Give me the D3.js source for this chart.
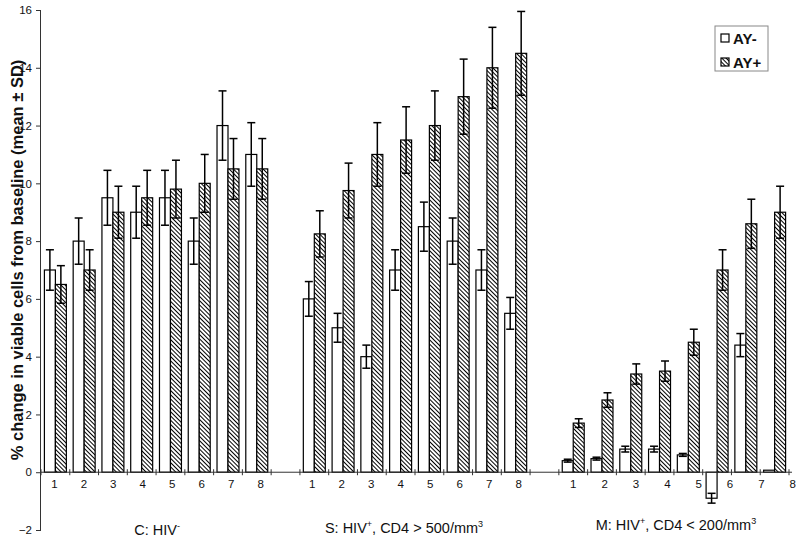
<!DOCTYPE html>
<html>
<head>
<meta charset="utf-8">
<script src="https://cdn.jsdelivr.net/npm/d3@7"></script>
<style>
  html, body { margin: 0; padding: 0; background: #fff; }
  svg { display: block; font-family: "Liberation Sans", Arial, sans-serif; }
</style>
</head>
<body>
<svg id="chart" width="800" height="541"></svg>
<script>
// ---------- DATA ----------
const timepoints = ["1", "2", "3", "4", "5", "6", "7", "8"];
const groupKeys = ["C", "S", "M"];
const seriesNames = ["AY-", "AY+"];
const yTicks = [-2, 0, 2, 4, 6, 8, 10, 12, 14, 16];

// C: HIV-
const cNeg   = [7.0, 8.0, 9.5, 9.0, 9.5, 8.0, 12.0, 11.0];
const cNegSD = [0.7, 0.8, 0.95, 0.9, 0.95, 0.8, 1.2, 1.1];
const cPos   = [6.5, 7.0, 9.0, 9.5, 9.8, 10.0, 10.5, 10.5];
const cPosSD = [0.65, 0.7, 0.9, 0.95, 1.0, 1.0, 1.05, 1.05];

// S: HIV+, CD4 > 500/mm3
const sNeg   = [6.0, 5.0, 4.0, 7.0, 8.5, 8.0, 7.0, 5.5];
const sNegSD = [0.6, 0.5, 0.4, 0.7, 0.85, 0.8, 0.7, 0.55];
const sPos   = [8.25, 9.75, 11.0, 11.5, 12.0, 13.0, 14.0, 14.5];
const sPosSD = [0.8, 0.95, 1.1, 1.15, 1.2, 1.3, 1.4, 1.45];

// M: HIV+, CD4 < 200/mm3
const mNeg   = [0.4, 0.47, 0.8, 0.8, 0.6, -0.9, 4.4, 0.07];
const mNegSD = [0.05, 0.05, 0.1, 0.1, 0.05, 0.17, 0.4, 0];
const mPos   = [1.7, 2.5, 3.4, 3.5, 4.5, 7.0, 8.6, 9.0];
const mPosSD = [0.15, 0.25, 0.35, 0.35, 0.45, 0.7, 0.85, 0.9];

// ---------- BUILD ----------
const groupData = {
  C: { neg: cNeg, negSD: cNegSD, pos: cPos, posSD: cPosSD },
  S: { neg: sNeg, negSD: sNegSD, pos: sPos, posSD: sPosSD },
  M: { neg: mNeg, negSD: mNegSD, pos: mPos, posSD: mPosSD }
};

// 26 slots: 8 C, gap, 8 S, gap, 8 M
const slots = [];
groupKeys.forEach((g, gi) => {
  timepoints.forEach(t => slots.push(g + t));
  if (gi < groupKeys.length - 1) slots.push("gap" + gi);
});

const records = [];
groupKeys.forEach(g => {
  const d = groupData[g];
  timepoints.forEach((t, i) => {
    records.push({ slot: g + t, series: "AY-", value: d.neg[i], sd: d.negSD[i] });
    records.push({ slot: g + t, series: "AY+", value: d.pos[i], sd: d.posSD[i] });
  });
});

// ---------- LAYOUT ----------
const svg = d3.select("#chart");
const plotL = 41, plotR = 789, plotT = 10, plotB = 530;

const x = d3.scaleBand().domain(slots).range([plotL, plotR]).padding(0);
const xs = d3.scaleBand().domain(seriesNames).range([0, x.bandwidth()])
  .paddingInner(0).paddingOuter(0.31);
const y = d3.scaleLinear().domain([-2, 16]).range([plotB, plotT]);

// hatch pattern
const defs = svg.append("defs");
defs.append("pattern")
  .attr("id", "hatch")
  .attr("patternUnits", "userSpaceOnUse")
  .attr("width", 3).attr("height", 3)
  .attr("patternTransform", "rotate(-45)")
  .call(p => {
    p.append("rect").attr("width", 3).attr("height", 3).attr("fill", "#fff");
    p.append("line").attr("x1", 0.5).attr("y1", 0).attr("x2", 0.5).attr("y2", 3)
      .attr("stroke", "#000").attr("stroke-width", 1);
  });

const fillFor = s => s === "AY-" ? "#fff" : "url(#hatch)";

// Y title (drawn first; tick labels sit over it as in the original)
svg.append("text")
  .attr("transform", `translate(23,260) rotate(-90)`)
  .attr("text-anchor", "middle")
  .attr("font-size", 16.5).attr("font-weight", "bold").attr("fill", "#111")
  .text("% change in viable cells from baseline (mean ± SD)");

// Y axis
const yAxis = d3.axisLeft(y).tickValues(yTicks).tickSize(5).tickPadding(4)
  .tickFormat(d3.format("d"));
const yg = svg.append("g").attr("transform", `translate(${plotL},0)`).call(yAxis);
yg.select(".domain").attr("stroke", "#333").attr("d", `M-0.5,${plotT}V${plotB}`);
yg.selectAll(".tick line").attr("stroke", "#333");
yg.selectAll(".tick text").attr("font-size", 11.5).attr("fill", "#111")
  .attr("font-family", "'Liberation Sans', Arial, sans-serif");

// Bars
const bars = svg.append("g");
bars.selectAll("rect").data(records).join("rect")
  .attr("x", d => x(d.slot) + xs(d.series))
  .attr("width", xs.bandwidth())
  .attr("y", d => y(Math.max(0, d.value)))
  .attr("height", d => Math.abs(y(d.value) - y(0)))
  .attr("fill", d => fillFor(d.series))
  .attr("stroke", "#000").attr("stroke-width", 1.2);

// X axis line + cross ticks
const y0 = y(0);
svg.append("line").attr("x1", plotL).attr("x2", plotR + 3).attr("y1", y0).attr("y2", y0)
  .attr("stroke", "#333").attr("stroke-width", 1);
const boundaries = slots.map(s => x(s)).concat([plotR]);
svg.append("g").selectAll("line").data(boundaries).join("line")
  .attr("x1", d => d).attr("x2", d => d)
  .attr("y1", y0 - 3).attr("y2", y0 + 3)
  .attr("stroke", "#333").attr("stroke-width", 1);

// Error bars
const capW = 8;
const err = svg.append("g").attr("stroke", "#000").attr("stroke-width", 1.5);
records.filter(d => d.sd > 0).forEach(d => {
  const cx = x(d.slot) + xs(d.series) + xs.bandwidth() / 2;
  const hi = y(d.value + d.sd), lo = y(d.value - d.sd);
  err.append("line").attr("x1", cx).attr("x2", cx).attr("y1", hi).attr("y2", lo);
  err.append("line").attr("x1", cx - capW / 2).attr("x2", cx + capW / 2).attr("y1", hi).attr("y2", hi);
  err.append("line").attr("x1", cx - capW / 2).attr("x2", cx + capW / 2).attr("y1", lo).attr("y2", lo);
});

// Category number labels (slightly drifting label rows, as in the original)
const labelDrift = { C: 0.7, S: 0.7, M: 2.6 };
const labelShift = { C: -1, S: -2, M: 0 };
const lab = svg.append("g").attr("font-size", 11.5).attr("fill", "#111").attr("text-anchor", "middle");
groupKeys.forEach(g => {
  timepoints.forEach((t, i) => {
    lab.append("text")
      .attr("x", x(g + t) + x.bandwidth() / 2 + labelShift[g] + labelDrift[g] * i)
      .attr("y", y0 + 16)
      .text(t);
  });
});

// Group labels
const gl = svg.append("g").attr("font-size", 14.5).attr("fill", "#111").attr("text-anchor", "middle");
function groupLabel(cx, by, parts) {
  const t = gl.append("text").attr("x", cx).attr("y", by);
  parts.forEach(p => {
    const ts = t.append("tspan").text(p.text);
    if (p.sup) ts.attr("font-size", 9).attr("dy", -6);
    else if (p.after) ts.attr("dy", 6);
  });
}
const center = (a, b) => (x(a) + x(b) + x.bandwidth()) / 2;
groupLabel(center("C1", "C8") + 1, 535, [{ text: "C: HIV" }, { text: "-", sup: true }]);
groupLabel(center("S1", "S8") - 11, 533, [{ text: "S: HIV" }, { text: "+", sup: true }, { text: ", CD4 > 500/mm", after: true }, { text: "3", sup: true }]);
groupLabel(center("M1", "M8") + 2, 530, [{ text: "M: HIV" }, { text: "+", sup: true }, { text: ", CD4 < 200/mm", after: true }, { text: "3", sup: true }]);

// Legend
const lg = svg.append("g").attr("transform", "translate(715,26)");
lg.append("rect").attr("width", 53).attr("height", 45)
  .attr("fill", "#fff").attr("stroke", "#888").attr("stroke-width", 1);
seriesNames.forEach((s, i) => {
  const row = lg.append("g").attr("transform", `translate(6,${8 + i * 24})`);
  row.append("rect").attr("width", 8).attr("height", 8)
    .attr("fill", fillFor(s)).attr("stroke", "#000").attr("stroke-width", 1.2);
  row.append("text").attr("x", 12).attr("y", 9.5)
    .attr("font-size", 15).attr("font-weight", "bold").attr("fill", "#111").text(s);
});
</script>
</body>
</html>
